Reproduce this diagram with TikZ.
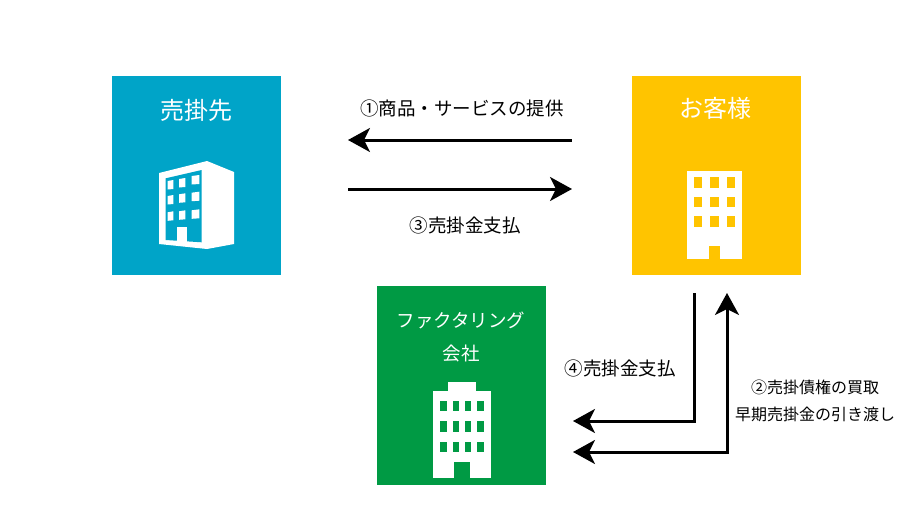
\documentclass[tikz,border=0pt]{standalone}
\usepackage{fontspec}
\setmainfont{Noto Sans CJK JP}
\definecolor{sakiblue}{HTML}{00A4C8}
\definecolor{kyakuyellow}{HTML}{FFC400}
\definecolor{factgreen}{HTML}{009A44}
\usetikzlibrary{arrows.meta,positioning}
\begin{document}
\begin{tikzpicture}[x=1pt,y=-1pt,
  obj/.style={minimum width=169pt,minimum height=199pt,outer sep=0pt,inner sep=0pt},
  ttl/.style={text=white,font=\fontsize{24}{24}\selectfont,inner sep=0pt},
  sub/.style={text=white,font=\fontsize{18.5}{18.5}\selectfont,inner sep=0pt},
  lab/.style={font=\fontsize{18.5}{18.5}\selectfont,inner sep=0pt},
  labs/.style={font=\fontsize{16}{16}\selectfont,inner sep=0pt},
  arr/.style={{Stealth[length=22pt,width=24pt,inset=6pt]}-,line width=3pt,black},
  arrb/.style={{Stealth[length=22pt,width=24pt,inset=6pt]}-{Stealth[length=22pt,width=24pt,inset=6pt]},line width=3pt,black}]
  \useasboundingbox (0,0) rectangle (900,525);
  \node[obj,fill=sakiblue] (saki) at (196.5,175.5) {};
  \node[obj,fill=kyakuyellow,right=351pt of saki] (kyaku) {};
  \node[obj,fill=factgreen] (fact) at (461.5,385.5) {};
  \node[ttl] (sakiname) at (196.5,110) {売掛先};
  \node[ttl] (kyakuname) at (715,108) {お客様};
  \node[sub] (factname) at (461,320) {ファクタリング};
  \node[sub,below=16pt of factname] (factname2) {会社};
  % left building
  \fill[white] (159,173) -- (207,161) -- (234,172) -- (234,244) -- (207,249) -- (159,244) -- cycle;
  \fill[sakiblue] (165.7,178.3) -- (201.7,170) -- (201.7,242.3) -- (165.7,240) -- cycle;
  \foreach \x/\w/\a/\b/\c in {167.7/5.6/181/196/212.3,179/6.3/179/194.3/211.3,191.7/7.6/176/192.7/210.3}
    \foreach \y in {\a,\b,\c}
      \fill[white] (\x,\y) -- (\x+\w,\y-1) -- (\x+\w,\y+8) -- (\x,\y+8.5) -- cycle;
  \fill[white] (177.3,226.7) rectangle (186.7,242);
  % right building
  \fill[white] (686.7,171) rectangle (742,259.3);
  \foreach \x in {694,710.4,727}
    \foreach \y in {177.3,196.7,216.3}
      \fill[kyakuyellow] (\x,\y) rectangle ++(8.3,10.5);
  \fill[kyakuyellow] (709,245.7) rectangle (720.3,259.3);
  % middle building
  \fill[white] (432.7,391) rectangle (491.3,478);
  \fill[white] (447.7,381.7) rectangle (476,392);
  \foreach \x in {440.3,452.7,465,477.3}
    \foreach \y in {400.7,421,441.7}
      \fill[factgreen] (\x,\y) rectangle ++(6.2,10.5);
  \fill[factgreen] (454,462.3) rectangle (470,478);
  % free ends of the arrows
  \coordinate (t1) at (348,140);
  \coordinate (t2) at (572,140);
  \coordinate (m1) at (572,189);
  \coordinate (m2) at (348,189);
  \coordinate (f1) at (573,421);
  \coordinate (f2) at (694,293);
  \coordinate (g1) at (573,452);
  \coordinate (g2) at (727,293);
  \draw[arr] (t1) -- (t2);
  \draw[arr] (m1) -- (m2);
  \draw[arr] (f1) -| (f2);
  \draw[arrb] (g1) -| (g2);
  \node[lab] (l1) at (462,108) {①商品・サービスの提供};
  \node[lab] (l3) at (465,225) {③売掛金支払};
  \node[lab] (l4) at (620,368) {④売掛金支払};
  \node[labs] (l2) at (815,387) {②売掛債権の買取};
  \node[labs] (l2b) at (815,414) {早期売掛金の引き渡し};
\end{tikzpicture}
\end{document}
